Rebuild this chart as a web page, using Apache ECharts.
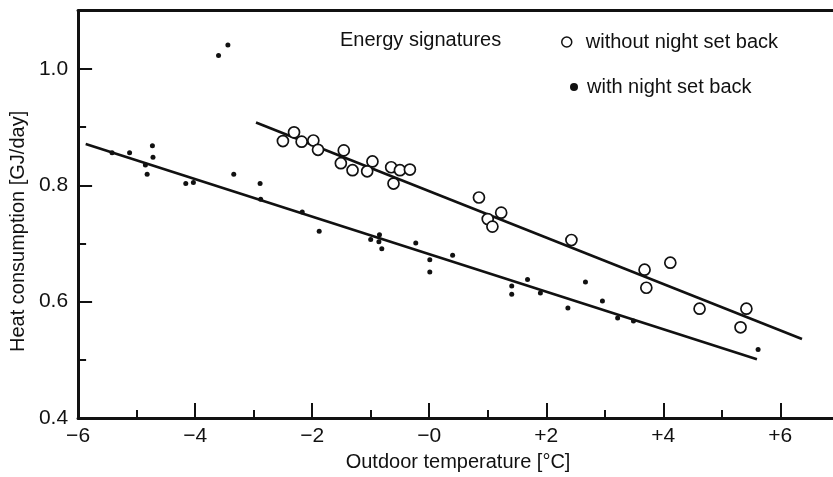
<!DOCTYPE html>
<html>
<head>
<meta charset="utf-8">
<script src="https://cdn.jsdelivr.net/npm/echarts@6/dist/echarts.min.js"></script>
<style>
  html, body { margin: 0; padding: 0; background: #fff; }
  #chart { width: 833px; height: 477px; }
</style>
</head>
<body>
<div id="chart"></div>
<script>
// ---- data ----
const tempWithout = [-2.50, -2.31, -2.18, -1.98, -1.90, -1.46, -1.51, -1.31, -0.97, -1.06, -0.65, -0.50, -0.33, -0.61, 0.85, 1.23, 1.00, 1.08, 2.43, 3.68, 4.12, 3.71, 4.62, 5.42, 5.32];
const heatWithout = [0.876, 0.891, 0.875, 0.877, 0.861, 0.860, 0.838, 0.826, 0.841, 0.824, 0.831, 0.826, 0.827, 0.803, 0.779, 0.753, 0.742, 0.729, 0.706, 0.655, 0.667, 0.624, 0.588, 0.588, 0.556];

const tempWith = [-5.42, -5.12, -4.73, -4.72, -4.85, -4.82, -4.16, -4.03, -3.34, -2.89, -2.88, -2.17, -1.88, -1.00, -0.85, -0.86, -0.81, -0.23, 0.01, 0.01, 0.40, 1.41, 1.41, 1.68, 1.90, 2.37, 2.67, 2.96, 3.22, 3.49, 5.62, -3.60, -3.44];
const heatWith = [0.856, 0.856, 0.868, 0.848, 0.835, 0.819, 0.803, 0.805, 0.819, 0.803, 0.776, 0.754, 0.721, 0.707, 0.715, 0.703, 0.691, 0.701, 0.672, 0.651, 0.680, 0.627, 0.613, 0.638, 0.615, 0.589, 0.634, 0.601, 0.572, 0.567, 0.518, 1.023, 1.041];

// regression lines (end points)
const lineWithoutTemp = [-2.96, 6.37];
const lineWithoutHeat = [0.908, 0.536];
const lineWithTemp = [-5.87, 5.60];
const lineWithHeat = [0.871, 0.501];

// ticks and tick labels
const xTickValues = [-6, -4, -2, 0, 2, 4, 6];
const xTickLabels = ['\u22126', '\u22124', '\u22122', '\u22120', '+2', '+4', '+6'];
const xMinorTicks = [-5, -3, -1, 1, 3, 5];
const yTickValues = [0.4, 0.6, 0.8, 1.0];
const yTickLabels = ['0.4', '0.6', '0.8', '1.0'];
const yMinorTicks = [0.5, 0.7, 0.9];

const seriesNames = ['without night set back', 'with night set back'];
const chartTitle = 'Energy signatures';
const xTitle = 'Outdoor temperature [\u00B0C]';
const yTitle = 'Heat consumption [GJ/day]';

// ---- build ----
const zip = (a, b) => a.map((v, i) => [v, b[i]]);
const INK = '#111';
const FONT = "'Liberation Sans', Arial, Helvetica, sans-serif";

function lookup(values, labels, v) {
  for (let i = 0; i < values.length; i++) {
    if (Math.abs(values[i] - v) < 1e-6) return labels[i];
  }
  return '';
}

const chart = echarts.init(document.getElementById('chart'), null, { renderer: 'canvas' });

chart.setOption({
  animation: false,
  backgroundColor: '#fff',
  textStyle: { fontFamily: FONT, color: INK },
  title: {
    text: chartTitle,
    left: 340, top: 30, padding: 0,
    textStyle: { fontFamily: FONT, fontSize: 20, fontWeight: 'normal', color: INK }
  },
  legend: [
    {
      data: [{ name: seriesNames[0], icon: 'circle', itemStyle: { color: '#fff', borderColor: INK, borderWidth: 1.5 } }],
      left: 561, top: 32, padding: 0,
      itemWidth: 28, itemHeight: 10,
      textStyle: { fontFamily: FONT, fontSize: 20, color: INK }
    },
    {
      data: [{ name: seriesNames[1], icon: 'circle', itemStyle: { color: INK, borderWidth: 0 } }],
      left: 570, top: 77, padding: 0,
      itemWidth: 16, itemHeight: 8,
      textStyle: { fontFamily: FONT, fontSize: 20, color: INK }
    }
  ],
  grid: { left: 78, right: 0, top: 10.7, bottom: 55.3, containLabel: false },
  xAxis: [
    {
      type: 'value', min: -6, max: 6.9, interval: 2, position: 'bottom',
      axisLine: { show: true, onZero: false, lineStyle: { color: INK, width: 3 } },
      axisTick: { show: true, inside: true, length: 15, customValues: xTickValues, lineStyle: { color: INK, width: 2 } },
      axisLabel: {
        margin: 8, fontSize: 21, color: INK, fontFamily: FONT,
        customValues: xTickValues,
        formatter: v => lookup(xTickValues, xTickLabels, v)
      },
      splitLine: { show: false },
      name: xTitle, nameLocation: 'middle', nameGap: 28,
      nameTextStyle: { fontSize: 20, color: INK, fontFamily: FONT, padding: [0, 0, 0, 5] }
    },
    {
      type: 'value', min: -6, max: 6.9, interval: 1, position: 'bottom',
      axisLine: { show: false, onZero: false },
      axisTick: { show: true, inside: true, length: 8, customValues: xMinorTicks, lineStyle: { color: INK, width: 2 } },
      axisLabel: { show: false },
      splitLine: { show: false }
    },
    {
      type: 'value', min: -6, max: 6.9, position: 'top',
      axisLine: { show: true, onZero: false, lineStyle: { color: INK, width: 3 } },
      axisTick: { show: false }, axisLabel: { show: false }, splitLine: { show: false }
    }
  ],
  yAxis: [
    {
      type: 'value', min: 0.4, max: 1.1, interval: 0.2, position: 'left',
      axisLine: { show: true, onZero: false, lineStyle: { color: INK, width: 3 } },
      axisTick: { show: true, inside: true, length: 14, customValues: yTickValues, lineStyle: { color: INK, width: 2 } },
      axisLabel: {
        margin: 10, fontSize: 21, color: INK, fontFamily: FONT,
        customValues: yTickValues,
        formatter: v => lookup(yTickValues, yTickLabels, v)
      },
      splitLine: { show: false },
      name: yTitle, nameLocation: 'middle', nameRotate: 90, nameGap: 50,
      nameTextStyle: { fontSize: 20, color: INK, fontFamily: FONT, padding: [0, 34, 0, 0] }
    },
    {
      type: 'value', min: 0.4, max: 1.1, interval: 0.1, position: 'left',
      axisLine: { show: false, onZero: false },
      axisTick: { show: true, inside: true, length: 8, customValues: yMinorTicks, lineStyle: { color: INK, width: 2 } },
      axisLabel: { show: false },
      splitLine: { show: false }
    }
  ],
  series: [
    {
      name: 'fit without', type: 'line', xAxisIndex: 0, yAxisIndex: 0,
      data: zip(lineWithoutTemp, lineWithoutHeat),
      showSymbol: false, symbol: 'none', silent: true,
      lineStyle: { color: INK, width: 2.6 }, z: 2
    },
    {
      name: 'fit with', type: 'line', xAxisIndex: 0, yAxisIndex: 0,
      data: zip(lineWithTemp, lineWithHeat),
      showSymbol: false, symbol: 'none', silent: true,
      lineStyle: { color: INK, width: 2.6 }, z: 2
    },
    {
      name: seriesNames[0], type: 'scatter', xAxisIndex: 0, yAxisIndex: 0,
      data: zip(tempWithout, heatWithout),
      symbol: 'circle', symbolSize: 11,
      itemStyle: { color: '#fff', borderColor: INK, borderWidth: 1.7, opacity: 1 },
      z: 4
    },
    {
      name: seriesNames[1], type: 'scatter', xAxisIndex: 0, yAxisIndex: 0,
      data: zip(tempWith, heatWith),
      symbol: 'circle', symbolSize: 5,
      itemStyle: { color: INK, opacity: 1 },
      z: 4
    }
  ]
});
</script>
</body>
</html>
